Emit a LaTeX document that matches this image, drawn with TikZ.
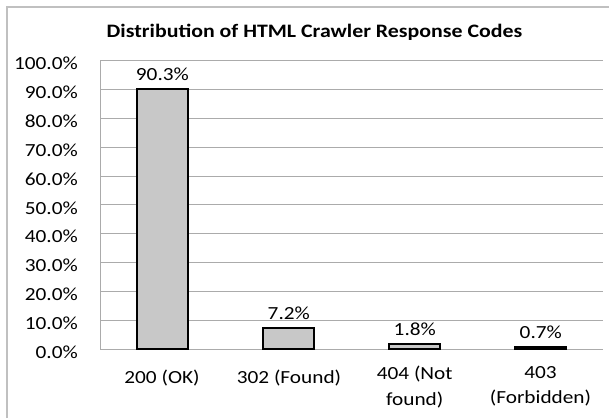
\documentclass[tikz,border=0pt]{standalone}
\usepackage{graphicx}
\usepackage{fontspec}
\setmainfont{Carlito}
\definecolor{gridgray}{HTML}{ABABAB}
\definecolor{framegray}{HTML}{C0C0C0}
\definecolor{barfill}{HTML}{C8C8C8}
\newcommand{\sx}[1]{\scalebox{1.15}[1]{#1}}
\begin{document}
\begin{tikzpicture}[x=1pt,y=-1pt,
  gridline/.style={draw=gridgray,line width=1pt},
  barbox/.style={draw=black,fill=barfill,line width=2.2pt},
  ylab/.style={anchor=east,font=\fontsize{18.5}{22}\selectfont,inner sep=0pt},
  vlab/.style={font=\fontsize{18.5}{22}\selectfont,inner sep=0pt},
  xlab/.style={font=\fontsize{18.5}{25.3}\selectfont,inner sep=0pt,align=center},
  ttl/.style={font=\bfseries\fontsize{19}{22}\selectfont,inner sep=0pt,anchor=base west}]
\useasboundingbox (0,0) rectangle (609,418);
% outer frame (top and left visible)
\draw[framegray,line width=1.2pt] (7,418) -- (7,7) -- (609,7);
% title
\node[ttl] (title) at (106.5,37.7) {\sx{Distribution of HTML Crawler Response Codes}};
% gridlines and y labels
\foreach \i/\t in {0/0.0,1/10.0,2/20.0,3/30.0,4/40.0,5/50.0,6/60.0,7/70.0,8/80.0,9/90.0,10/100.0}{
  \pgfmathsetmacro{\yy}{349-28.83*\i}
  \draw[gridline] (100,\yy) -- (603,\yy);
  \node[ylab] (y\i) at (78,\yy+3) {\sx{\t\%}};
}
\draw[gridline] (100,60.7) -- (100,349);
% bars
\foreach \c/\v/\lab in {162.4/90.3/b1,288.8/7.2/b2,414.8/1.8/b3,540.8/0.7/b4}{
  \pgfmathsetmacro{\top}{349-2.883*\v}
  \draw[barbox] (\c-25.5,349) rectangle (\c+25.5,\top);
  \node[vlab] (\lab) at (\c,\top-14.5) {\sx{\v\%}};
}
% x labels
\node[xlab,anchor=center] (x1) at (162,377.7) {\sx{200 (OK)}};
\node[xlab,anchor=center] (x2) at (289,377.7) {\sx{302 (Found)}};
\node[xlab,anchor=north] (x3) at (414.7,366) {\sx{404 (Not}\\\sx{found)}};
\node[xlab,anchor=north] (x4) at (540.5,366) {\sx{403}\\\sx{(Forbidden)}};
\end{tikzpicture}
\end{document}
